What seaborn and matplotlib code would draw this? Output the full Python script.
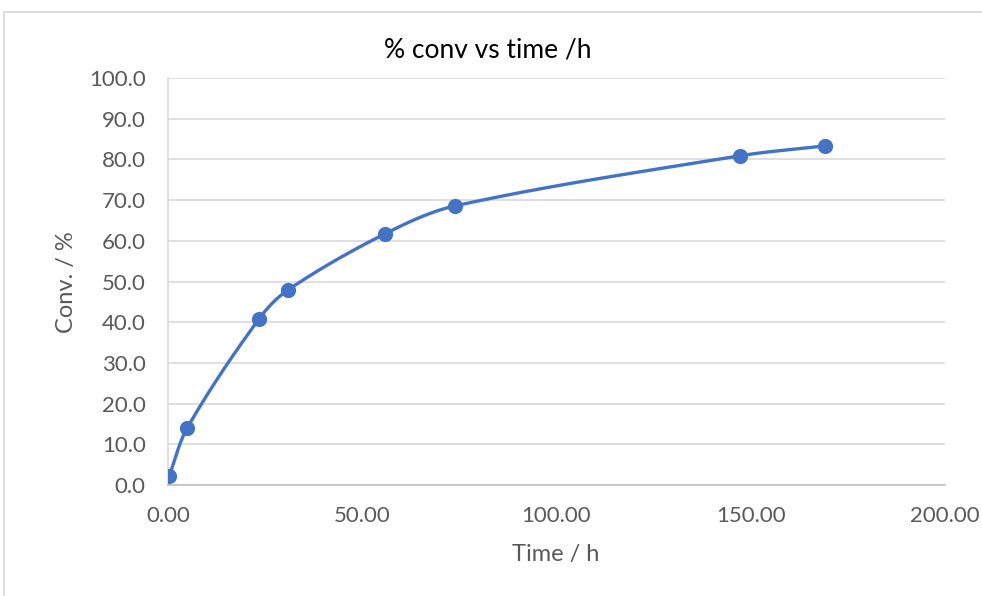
import numpy as np
import pandas as pd
import matplotlib
matplotlib.use("Agg")
import matplotlib.pyplot as plt
import seaborn as sns
from matplotlib.patches import Rectangle

time_h = [0.3, 5.0, 23.5, 31.0, 55.8, 74.0, 147.3, 169.0]
conv_pct = [2.2, 14.1, 40.9, 48.0, 61.7, 68.6, 80.9, 83.3]
x_ticks = [0, 50, 100, 150, 200]
y_ticks = [0, 10, 20, 30, 40, 50, 60, 70, 80, 90, 100]
title = "% conv vs time /h"
x_label = "Time / h"
y_label = "Conv. / %"

df = pd.DataFrame({"t": time_h, "c": conv_pct})

sns.set_theme(style="white")
plt.rcParams["font.family"] = ["Lato", "DejaVu Sans"]

W, H = 982, 596
fig = plt.figure(figsize=(W / 100, H / 100), dpi=100)
ax = fig.add_axes([168 / W, 1 - 485 / H, (945 - 168) / W, (485 - 78) / H])
ax.set_xlim(0, 200)
ax.set_ylim(0, 100)

# smoothed connecting line (Bezier through the points), computed in display space
color = "#4472C4"
P = ax.transData.transform(np.column_stack([time_h, conv_pct]))
n = len(P)
T = []
for i in range(n):
    a = P[max(i - 1, 0)]
    b = P[min(i + 1, n - 1)]
    d = b - a
    T.append(d / np.linalg.norm(d))
T = np.array(T)
segs = []
s = np.linspace(0, 1, 60)[:, None]
for i in range(n - 1):
    p1, p2 = P[i], P[i + 1]
    L = np.linalg.norm(p2 - p1)
    c1 = p1 + T[i] * L / 3
    c2 = p2 - T[i + 1] * L / 3
    segs.append((1 - s) ** 3 * p1 + 3 * (1 - s) ** 2 * s * c1 + 3 * (1 - s) * s ** 2 * c2 + s ** 3 * p2)
curve = ax.transData.inverted().transform(np.vstack(segs))
ax.plot(curve[:, 0], curve[:, 1], color=color, lw=2.4, solid_capstyle="round", zorder=3)
sns.scatterplot(data=df, x="t", y="c", ax=ax, color=color, s=120, edgecolor=color, linewidth=0, zorder=4)

ax.set_xlim(0, 200)
ax.set_ylim(0, 100)
ax.set_xticks(x_ticks)
ax.set_yticks(y_ticks)
ax.set_xticklabels([f"{v:.2f}" for v in x_ticks])
ax.set_yticklabels([f"{v:.1f}" for v in y_ticks])
ax.tick_params(axis="both", length=0, labelsize=16, colors="#595959")
ax.tick_params(axis="x", pad=15)
ax.tick_params(axis="y", pad=16)
ax.grid(axis="y", color="#d9d9d9", lw=1.2)
ax.set_axisbelow(True)
for sp in ["top", "right"]:
    ax.spines[sp].set_visible(False)
ax.spines["left"].set_color("#d9d9d9")
ax.spines["left"].set_linewidth(1.2)
ax.spines["bottom"].set_color("#bfbfbf")
ax.spines["bottom"].set_linewidth(1.2)
ax.set_xlabel("")
ax.set_ylabel("")

fig.text(66 / W, 1 - 282 / H, y_label, rotation=90, ha="center", va="center", fontsize=17, color="#595959")
fig.text(556 / W, 1 - 554 / H, x_label, ha="center", va="center", fontsize=17, color="#595959")
fig.text(488 / W, 1 - 50 / H, title, ha="center", va="center", fontsize=19, color="#000000")

fig.patches.append(Rectangle((4 / W, -0.1), 1.2, (1 - 12 / H) + 0.1, transform=fig.transFigure,
                             fill=False, edgecolor="#d9d9d9", lw=1.2))

fig.savefig("out.png", dpi=100)
